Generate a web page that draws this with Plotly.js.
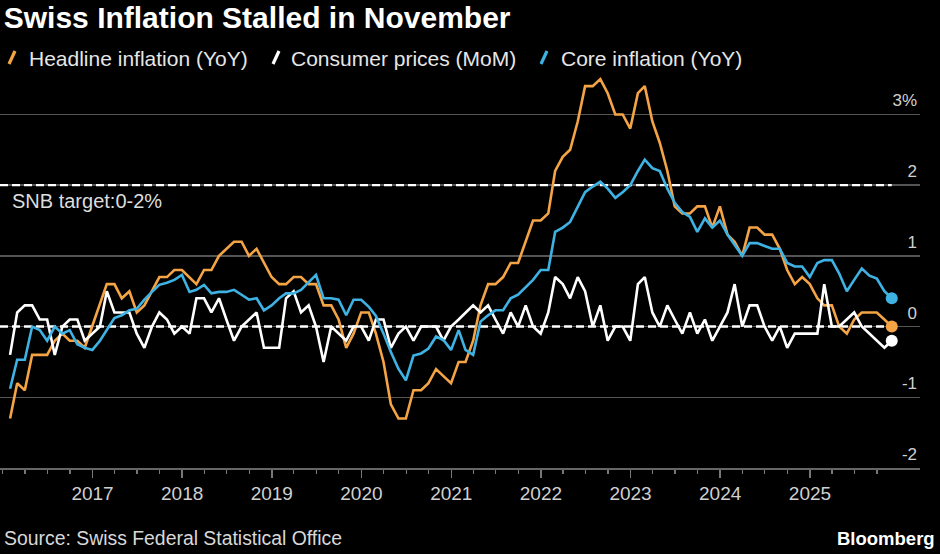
<!DOCTYPE html>
<html><head><meta charset="utf-8">
<script src="https://cdn.plot.ly/plotly-3.0.1.min.js"></script>
<style>html,body{margin:0;padding:0;background:#000;}#chart{width:940px;height:554px;}</style>
</head><body><div id="chart"></div>
<script>
// Monthly series, Jan 2016 .. Nov 2025 (plotted at month end)
const startYear = 2016;
const headline = [
 -1.3,-0.8,-0.9,-0.4,-0.4,-0.4,-0.2,-0.1,-0.2,-0.2,-0.3,0.0,
 0.3,0.6,0.6,0.4,0.5,0.2,0.3,0.5,0.7,0.7,0.8,0.8,
 0.7,0.6,0.8,0.8,1.0,1.1,1.2,1.2,1.0,1.1,0.9,0.7,
 0.6,0.6,0.7,0.7,0.6,0.6,0.3,0.3,0.1,-0.3,-0.1,0.2,
 0.2,-0.1,-0.5,-1.1,-1.3,-1.3,-0.9,-0.9,-0.8,-0.6,-0.7,-0.8,
 -0.5,-0.5,-0.2,0.3,0.6,0.6,0.7,0.9,0.9,1.2,1.5,1.5,
 1.6,2.2,2.4,2.5,2.9,3.4,3.4,3.5,3.3,3.0,3.0,2.8,
 3.3,3.4,2.9,2.6,2.2,1.7,1.6,1.6,1.7,1.7,1.4,1.7,
 1.3,1.2,1.0,1.4,1.4,1.3,1.3,1.1,0.8,0.6,0.7,0.6,
 0.4,0.3,0.3,0.0,-0.1,0.1,0.2,0.2,0.2,0.1,0.0
];
const consumerMoM = [
 -0.4,0.2,0.3,0.3,0.1,0.1,-0.4,0.0,0.1,0.1,-0.2,-0.1,
 0.0,0.5,0.2,0.2,0.2,-0.1,-0.3,0.0,0.2,0.1,-0.1,0.0,
 -0.1,0.4,0.4,0.2,0.4,0.1,-0.2,0.0,0.1,0.2,-0.3,-0.3,
 -0.3,0.4,0.5,0.2,0.3,0.0,-0.5,0.0,-0.1,-0.2,0.0,0.0,
 -0.2,0.1,0.1,-0.3,-0.1,0.0,-0.2,0.0,0.0,0.0,-0.2,0.0,
 0.1,0.2,0.3,0.2,0.3,0.1,-0.1,0.2,0.0,0.3,0.0,-0.1,
 0.2,0.7,0.6,0.4,0.7,0.5,0.0,0.3,-0.2,0.0,0.0,-0.2,
 0.6,0.7,0.2,0.0,0.3,0.1,-0.1,0.2,-0.1,0.1,-0.2,0.0,
 0.2,0.6,0.0,0.3,0.3,0.0,-0.2,0.0,-0.3,-0.1,-0.1,-0.1,
 -0.1,0.6,0.0,0.0,0.1,0.2,0.0,-0.1,-0.2,-0.3,-0.2
];
const coreYoY = [
 -0.88,-0.47,-0.47,0.0,-0.05,-0.2,0.0,-0.1,-0.05,-0.25,-0.3,-0.33,
 -0.2,-0.05,0.12,0.16,0.23,0.25,0.38,0.49,0.59,0.62,0.66,0.73,
 0.49,0.52,0.59,0.47,0.49,0.49,0.52,0.45,0.38,0.4,0.23,0.3,
 0.4,0.47,0.47,0.52,0.63,0.73,0.4,0.4,0.38,0.16,0.38,0.38,
 0.28,0.15,-0.1,-0.36,-0.6,-0.76,-0.41,-0.38,-0.31,-0.14,-0.19,-0.33,
 -0.05,-0.33,-0.4,0.07,0.16,0.23,0.23,0.4,0.45,0.55,0.66,0.8,
 0.8,1.34,1.4,1.48,1.7,1.9,1.98,2.05,1.95,1.82,1.9,2.0,
 2.2,2.36,2.24,2.2,1.95,1.75,1.62,1.55,1.34,1.53,1.4,1.5,
 1.3,1.15,1.0,1.18,1.18,1.14,1.1,1.1,0.9,0.85,0.85,0.7,
 0.9,0.94,0.94,0.75,0.5,0.66,0.82,0.72,0.68,0.5,0.4
];
const seriesNames = ['Headline inflation (YoY)','Consumer prices (MoM)','Core inflation (YoY)'];
const seriesColors = ['#f4a445','#ffffff','#3fb2e4'];
const targetBand = [0, 2];
const targetLabel = 'SNB target:0-2%';
const yTickVals = [-2,-1,0,1,2,3];
const yTickText = ['-2','-1','0','1','2','3%'];
const xTickYears = [2017,2018,2019,2020,2021,2022,2023,2024,2025];
const xRange = ['2015-12-21','2026-03-25'];
const titleText = 'Swiss Inflation Stalled in November';
const sourceText = 'Source: Swiss Federal Statistical Office';
const brandText = 'Bloomberg';

function monthEnd(i){
  const d = new Date(Date.UTC(startYear, i+1, 0));
  return d.toISOString().slice(0,10);
}
const dates = headline.map((_,i)=>monthEnd(i));
const last = dates.length-1;
const allSeries = [headline, consumerMoM, coreYoY];
const FONT = '"Liberation Sans", Arial, sans-serif';
const PW = 920, PH = 396; // plot area size in px

const traces = [];
allSeries.forEach((s,k)=>{
  traces.push({x:dates, y:s, type:'scatter', mode:'lines', name:seriesNames[k],
    line:{color:seriesColors[k], width:2.6}, hoverinfo:'x+y', showlegend:false});
});
allSeries.forEach((s,k)=>{
  traces.push({x:[dates[last]], y:[s[last]], type:'scatter', mode:'markers',
    marker:{color:seriesColors[k], size:12}, hoverinfo:'skip', showlegend:false});
});

const shapes = targetBand.map(v=>({type:'line', xref:'x', yref:'y', x0:xRange[0], x1:dates[last],
  y0:v, y1:v, layer:'between', line:{color:'#ffffff', width:2.4, dash:'8px,4px'}}));

// legend icons (short slanted strokes) and labels
const legendIconX = [9, 273, 541];
const legendTextX = [27, 289, 559];
const legendYpx = 58;
const annotations = [];
seriesNames.forEach((n,k)=>{
  shapes.push({type:'line', xref:'paper', yref:'paper',
    x0:legendIconX[k]/PW, x1:(legendIconX[k]+6)/PW,
    y0:(396+72-(legendYpx+6))/PH - 0, y1:(396+72-(legendYpx-7))/PH,
    line:{color:seriesColors[k], width:3.2}});
  annotations.push({xref:'paper', yref:'paper', x:legendTextX[k]/PW, y:(468-legendYpx)/PH, xanchor:'left', yanchor:'middle',
    showarrow:false, text:n, font:{family:FONT, size:21, color:'#e6e6e6'}});
});
annotations.push({xref:'paper', yref:'y', x:10/PW, y:targetBand[1], yshift:-16, xanchor:'left', yanchor:'middle',
  showarrow:false, text:targetLabel, font:{family:FONT, size:20, color:'#dddddd'}});
annotations.push({xref:'paper', yref:'paper', x:2/PW, y:-0.177, xanchor:'left', yanchor:'middle',
  showarrow:false, text:sourceText, font:{family:FONT, size:19.4, color:'#d8d8d8'}});
annotations.push({xref:'paper', yref:'paper', x:937/PW, y:-0.177, xanchor:'right', yanchor:'middle',
  showarrow:false, text:'<b>'+brandText+'</b>', font:{family:FONT, size:18.5, color:'#ffffff'}});

const layout = {
  width:940, height:554,
  paper_bgcolor:'#000', plot_bgcolor:'#000',
  margin:{l:0, r:20, t:72, b:86},
  title:{text:'<b>'+titleText+'</b>', x:0.004, xanchor:'left', y:0.968, yanchor:'middle',
    font:{family:FONT, size:30, color:'#ffffff'}},
  xaxis:{type:'date', range:xRange, showgrid:false, zeroline:false,
    tickvals:xTickYears.map(y=>y+'-01-01'), ticktext:xTickYears.map(String),
    ticks:'outside', ticklen:8, tickwidth:1.5, tickcolor:'#777',
    showline:true, linecolor:'#666', linewidth:1.5,
    tickfont:{family:FONT, size:19, color:'#d0d0d0'},
    minor:{tickmode:'linear', tick0:'2016-01-01', dtick:'M3', ticks:'outside', ticklen:4, tickcolor:'#777', tickwidth:1.2, showgrid:false}},
  yaxis:{range:[-2,3.6], side:'right', tickvals:yTickVals, ticktext:yTickText,
    ticklabelposition:'inside', ticklabelshift:-14, ticks:'',
    showgrid:true, gridcolor:'#555', gridwidth:1.5, zeroline:false, showline:false,
    tickfont:{family:FONT, size:17, color:'#d0d0d0'}},
  shapes:shapes,
  annotations:annotations,
  showlegend:false
};
Plotly.newPlot('chart', traces, layout, {displayModeBar:false, staticPlot:true});
</script></body></html>
